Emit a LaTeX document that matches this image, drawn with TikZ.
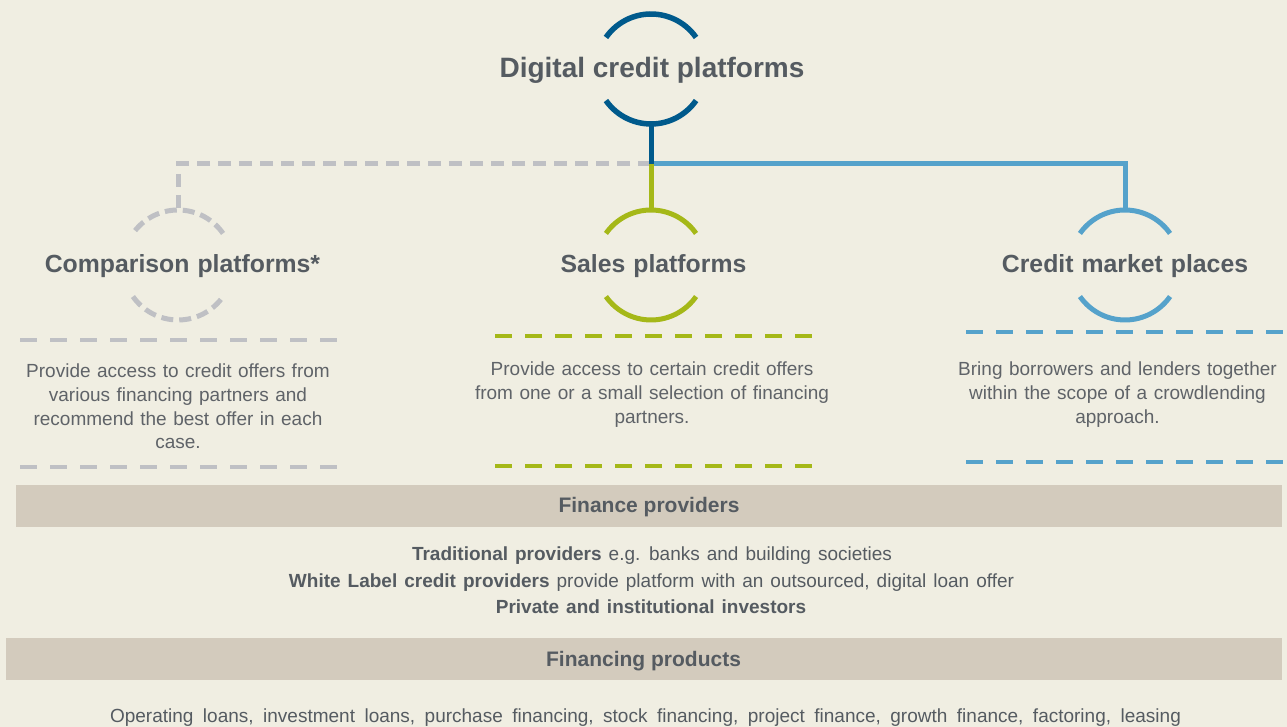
\documentclass[tikz,border=0pt]{standalone}
\usepackage{fontspec}
\setmainfont{Liberation Sans}
\definecolor{bgcream}{HTML}{F0EEE2}
\definecolor{barsand}{HTML}{D3CBBD}
\definecolor{txtgray}{HTML}{555B61}
\definecolor{desgray}{HTML}{5F6368}
\definecolor{darkblue}{HTML}{005A8C}
\definecolor{lightblue}{HTML}{55A2CB}
\definecolor{limegreen}{HTML}{A5B818}
\definecolor{dashgray}{HTML}{BFC0C4}
% wider word spacing
\newcommand\wordgap[1]{\spaceskip=#1\relax}
\begin{document}
\begin{tikzpicture}[x=1pt,y=1pt,
  ring/.style={circle,draw=none,minimum size=110pt,inner sep=0pt,outer sep=0pt},
  heading/.style={font={\fontsize{24.8}{28}\selectfont\bfseries\wordgap{8pt}},text=txtgray,anchor=base,inner sep=0pt},
  bighead/.style={font={\fontsize{28}{32}\selectfont\bfseries},text=txtgray,anchor=base,inner sep=0pt},
  desc/.style={font={\fontsize{19}{23.7}\selectfont\wordgap{6.5pt}},text=desgray,align=center,inner sep=0pt},
  barlabel/.style={font={\fontsize{21}{24}\selectfont\bfseries},text=txtgray,anchor=base,inner sep=0pt},
  plain/.style={font={\fontsize{19}{23}\selectfont\wordgap{7pt}},text=txtgray,anchor=base,inner sep=0pt},
  sepline/.style={line width=4pt,dash pattern=on 17pt off 13pt},
  arcline/.style={line width=5pt},
  bar/.style={fill=barsand,draw=none}
]
% canvas
\fill[bgcream] (0,0) rectangle (1287,727);
\useasboundingbox (0,0) rectangle (1287,727);

% rings
\node[ring] (top)    at (651,658) {};
\node[ring] (comp)   at (178,462) {};
\node[ring] (sales)  at (651,462) {};
\node[ring] (market) at (1125,462) {};
\coordinate (bus) at (651,563);

% ring arcs
\draw[darkblue,line width=5.5pt] (top.35) arc[start angle=35,end angle=145,radius=55pt];
\draw[darkblue,line width=5.5pt] (top.215) arc[start angle=215,end angle=325,radius=55pt];
\draw[dashgray,arcline,dash pattern=on 12pt off 6pt] (comp.35) arc[start angle=35,end angle=145,radius=55pt];
\draw[dashgray,arcline,dash pattern=on 12pt off 6pt] (comp.215) arc[start angle=215,end angle=325,radius=55pt];
\draw[limegreen,arcline] (sales.35) arc[start angle=35,end angle=145,radius=55pt];
\draw[limegreen,arcline] (sales.215) arc[start angle=215,end angle=325,radius=55pt];
\draw[lightblue,arcline] (market.35) arc[start angle=35,end angle=145,radius=55pt];
\draw[lightblue,arcline] (market.215) arc[start angle=215,end angle=325,radius=55pt];

% connectors
\draw[dashgray,line width=5pt,dash pattern=on 13pt off 8pt] (bus) -| (comp.north);
\draw[lightblue,line width=5pt] (bus) -| (market.north);
\draw[limegreen,line width=5pt] (bus) -- (sales.north);
\draw[darkblue,line width=5pt] (top.south) -- (bus);

% ring titles
\node[bighead] (ttop) at (652,649) {Digital credit platforms};
\node[heading] (tcomp) at (182.5,454) {Comparison platforms*};
\node[heading] (tsales) at (653.5,454) {Sales platforms};
\node[heading] (tmarket) at (1125,454) {Credit market places};

% separators
\draw[dashgray,sepline] (20,387) -- (337,387);
\draw[dashgray,sepline] (20,260) -- (337,260);
\draw[limegreen,sepline] (495,391) -- (813,391);
\draw[limegreen,sepline] (495,261) -- (813,261);
\draw[lightblue,sepline] (966,395) -- (1287,395);
\draw[lightblue,sepline] (966,265) -- (1287,265);

% descriptions
\node[desc] (dcomp) at (178,320.5) {Provide access to credit offers from\\various financing partners and\\recommend the best offer in each\\case.};
\node[desc] (dsales) at (652,332.5) {Provide access to certain credit offers\\from one or a small selection of financing\\partners.};
\node[desc] (dmarket) at (1117.5,332.5) {Bring borrowers and lenders together\\within the scope of a crowdlending\\approach.};

% finance providers
\fill[bar] (16,200) rectangle (1282,242);
\node[barlabel] (fp) at (649,214.5) {Finance providers};
\node[plain] (p1) at (652,166) {\textbf{Traditional providers} e.g. banks and building societies};
\node[plain] (p2) at (651.5,139) {\textbf{White Label credit providers} provide platform with an outsourced, digital loan offer};
\node[plain] (p3) at (651,113) {\textbf{Private and institutional investors}};

% financing products
\fill[bar] (6,47) rectangle (1282,89);
\node[barlabel] (fprod) at (643.5,60.5) {Financing products};
\node[plain,font={\fontsize{19}{22}\selectfont\wordgap{9.5pt}}] (prod) at (645.5,4.5) {Operating loans, investment loans, purchase financing, stock financing, project finance, growth finance, factoring, leasing};
\end{tikzpicture}
\end{document}
